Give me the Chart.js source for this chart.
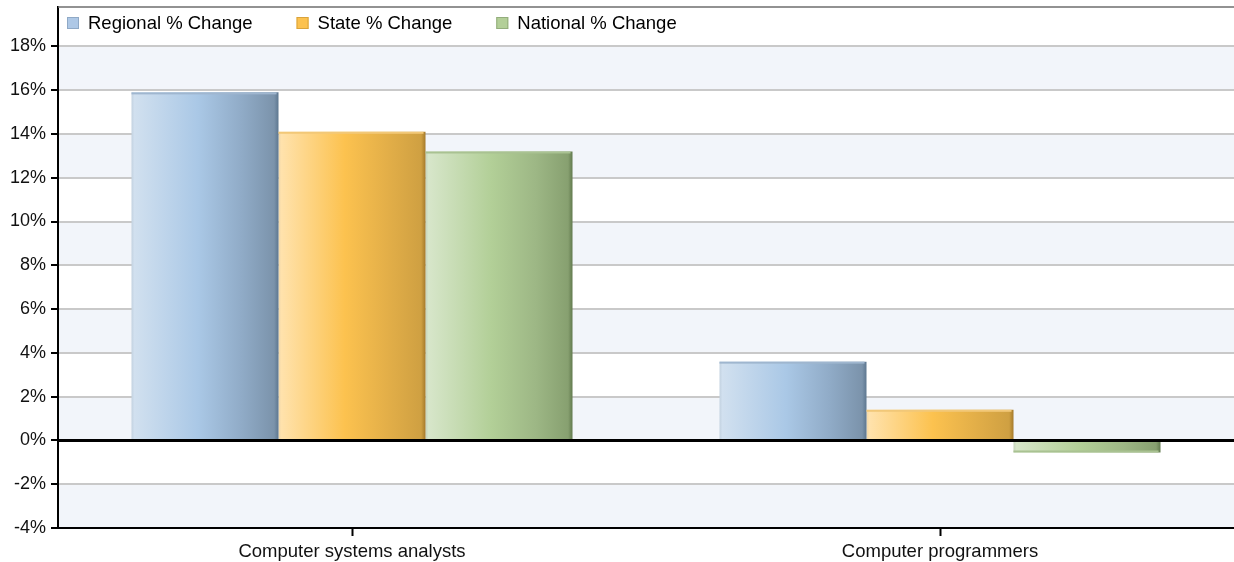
<!DOCTYPE html>
<html>
<head>
<meta charset="utf-8">
<script src="https://cdn.jsdelivr.net/npm/chart.js@4"></script>
<style>
  body { margin: 0; background: #fff; }
  #wrap { width: 1234px; height: 562px; position: relative; }
</style>
</head>
<body>
<div id="wrap"><canvas id="chart1"></canvas></div>
<script>
/* data */
var categories = ['Computer systems analysts', 'Computer programmers'];
var seriesNames = ['Regional % Change', 'State % Change', 'National % Change'];
var regional = [15.9, 3.6];
var state = [14.1, 1.4];
var national = [13.2, -0.55];
var yTicks = [-4, -2, 0, 2, 4, 6, 8, 10, 12, 14, 16, 18];

var FONT = '"Liberation Sans", Arial, sans-serif';

// gradient stops per series: light left -> mid -> dark right edge
var shades = [
  { legend: '#aec8e6', legendBorder: '#8fa9c6', top: '#9fb6cf', stops: ['#c3d2e0', '#d1e0ef', '#aac8e6', '#90abc7', '#7b93ab', '#5d7790'] },
  { legend: '#fcc24f', legendBorder: '#d9a33c', top: '#f2c878', stops: ['#f0d8ab', '#ffe2ac', '#fcc24f', '#e2ae48', '#cfa042', '#a57a2b'] },
  { legend: '#b3cf98', legendBorder: '#93ad7c', top: '#a9c292', stops: ['#c5d3bb', '#d7e6ca', '#b2cf97', '#9db785', '#87a070', '#627a4e'] }
];
var stopPos = [0, 0.02, 0.45, 0.75, 0.97, 1];

// alternating band fill behind the grid
var bands = {
  id: 'bands',
  beforeDraw: function (chart) {
    var ctx = chart.ctx, a = chart.chartArea, y = chart.scales.y;
    ctx.save();
    ctx.fillStyle = '#f2f5fa';
    for (var i = 0; i < yTicks.length - 1; i += 2) {
      var top = y.getPixelForValue(yTicks[i + 1]);
      var bot = y.getPixelForValue(yTicks[i]);
      ctx.fillRect(a.left, top, a.right - a.left, bot - top);
    }
    ctx.restore();
  }
};

// horizontal gradient on every bar, from the element's own geometry
var barShade = {
  id: 'barShade',
  beforeDatasetsDraw: function (chart) {
    var ctx = chart.ctx;
    chart.data.datasets.forEach(function (ds, di) {
      chart.getDatasetMeta(di).data.forEach(function (bar) {
        var g = ctx.createLinearGradient(bar.x - bar.width / 2, 0, bar.x + bar.width / 2, 0);
        shades[di].stops.forEach(function (c, k) { g.addColorStop(stopPos[k], c); });
        // own copy so bars don't share one gradient
        bar.options = Object.assign({}, bar.options, { backgroundColor: g });
      });
    });
  },
  afterDatasetsDraw: function (chart) {
    var ctx = chart.ctx, a = chart.chartArea, y = chart.scales.y;
    ctx.save();
    // thin bevel on the outer edge of each bar
    chart.data.datasets.forEach(function (ds, di) {
      chart.getDatasetMeta(di).data.forEach(function (bar) {
        var edge = bar.y < bar.base ? bar.y : bar.y - 2;
        ctx.fillStyle = shades[di].top;
        ctx.fillRect(bar.x - bar.width / 2, edge, bar.width - 2, 2);
      });
    });
    // zero line over the bars
    ctx.strokeStyle = '#000';
    ctx.lineWidth = 3;
    var z = Math.round(y.getPixelForValue(0)) + 0.5;
    ctx.beginPath();
    ctx.moveTo(a.left, z);
    ctx.lineTo(a.right, z);
    ctx.stroke();
    // top frame
    ctx.strokeStyle = '#6e6e6e';
    ctx.lineWidth = 1.5;
    ctx.beginPath();
    ctx.moveTo(a.left, a.top);
    ctx.lineTo(a.right, a.top);
    ctx.stroke();
    ctx.restore();
  }
};

// legend drawn inside the plot, top-left
var insideLegend = {
  id: 'insideLegend',
  afterDraw: function (chart) {
    var ctx = chart.ctx;
    var x = 67, top = 17, box = 12;
    ctx.save();
    ctx.font = '18.5px ' + FONT;
    ctx.textBaseline = 'middle';
    chart.data.datasets.forEach(function (ds, di) {
      ctx.fillStyle = shades[di].legend;
      ctx.fillRect(x, top, box, box);
      ctx.strokeStyle = shades[di].legendBorder;
      ctx.lineWidth = 1;
      ctx.strokeRect(x + 0.5, top + 0.5, box - 1, box - 1);
      ctx.fillStyle = '#000';
      ctx.fillText(ds.label, x + box + 9, top + box / 2 + 0.5);
      x += box + 9 + ctx.measureText(ds.label).width + 44;
    });
    ctx.restore();
  }
};

var ctx1 = document.getElementById('chart1').getContext('2d');
var chart1 = new Chart(ctx1, {
  type: 'bar',
  data: {
    labels: categories,
    datasets: [
      { label: seriesNames[0], data: regional },
      { label: seriesNames[1], data: state },
      { label: seriesNames[2], data: national }
    ]
  },
  options: {
    responsive: true,
    maintainAspectRatio: false,
    animation: false,
    layout: { padding: { top: 7, right: 0, left: 0, bottom: 0 } },
    datasets: {
      bar: {
        categoryPercentage: 0.75,
        barPercentage: 1.0,
        borderWidth: 0,
        backgroundColor: function (c) { return shades[c.datasetIndex].legend; }
      }
    },
    plugins: {
      legend: { display: false },
      tooltip: { enabled: false }
    },
    scales: {
      x: {
        afterFit: function (s) { s.height = 34; },
        grid: { display: true, drawOnChartArea: false, offset: false, tickLength: 8, tickColor: '#000', tickWidth: 2 },
        border: { display: true, color: '#000', width: 2 },
        ticks: { color: '#111', font: { family: FONT, size: 18.5 }, padding: 5 }
      },
      y: {
        min: -4,
        max: 19.8,
        afterFit: function (s) {
          s.width = 58;
          s.paddingTop = 0;
          s.paddingBottom = 0;
        },
        afterBuildTicks: function (s) {
          s.ticks = yTicks.map(function (v) { return { value: v }; });
        },
        grid: {
          color: function (c) { return c.tick && c.tick.value === 0 ? '#000' : '#c9c9c9'; },
          lineWidth: 2,
          tickLength: 7,
          tickColor: '#000',
          tickWidth: 2
        },
        border: { display: true, color: '#000', width: 2 },
        ticks: {
          color: '#111',
          padding: 5,
          font: { family: FONT, size: 18 },
          callback: function (v) { return v + '%'; }
        }
      }
    }
  },
  plugins: [bands, barShade, insideLegend]
});
</script>
</body>
</html>
